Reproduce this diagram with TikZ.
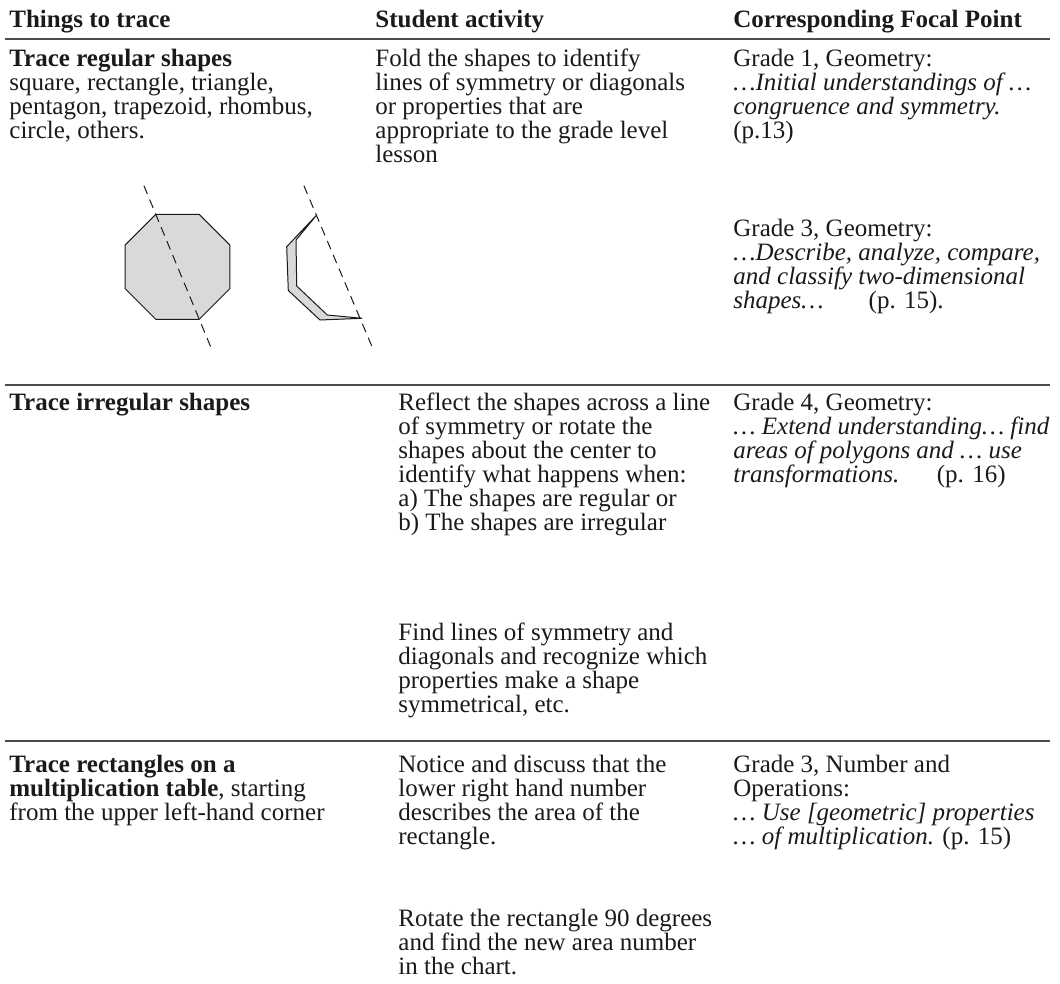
\documentclass[tikz,border=0pt]{standalone}
\usepackage{fontspec}
\setmainfont{Liberation Serif}
\usepackage{xcolor}
\definecolor{rulegray}{HTML}{4D4D4D}
\definecolor{inkblack}{HTML}{1A1A1A}
\definecolor{shapefill}{HTML}{D9D9D9}
\newcommand{\cellfont}{\fontsize{12.5}{12}\selectfont}
\newcommand{\cellstrut}{\rule{0pt}{10pt}}

\begin{document}
\begin{tikzpicture}[
  x=0.5pt, y=-0.5pt,
  celltext/.style={
    anchor=north west,
    inner sep=0pt,
    align=left,
    font=\cellfont,
    text=inkblack
  },
  headtext/.style={
    celltext,
    font=\cellfont\bfseries
  },
  rowrule/.style={
    draw=rulegray,
    line width=1pt
  },
  outline/.style={
    draw=inkblack,
    line width=0.5pt,
    line join=miter
  },
  foldline/.style={
    draw=inkblack,
    line width=0.5pt,
    dash pattern=on 4.5pt off 3pt
  }
]
  \useasboundingbox (0,0) rectangle (1060,984);

  % --- HEADER ---
  \node[headtext] (h1) at (9,7)   {\cellstrut Things to trace};
  \node[headtext] (h2) at (375,7) {\cellstrut Student activity};
  \node[headtext] (h3) at (733,7) {\cellstrut Corresponding Focal Point};
  \draw[rowrule] (5,39) -- (1050,39);

  % --- ROW 1: regular shapes ---
  \node[celltext] (r1a) at (9,46) {
    \cellstrut\textbf{Trace regular shapes}\\
    square, rectangle, triangle,\\
    pentagon, trapezoid, rhombus,\\
    circle, others.
  };
  \node[celltext] (r1b) at (375,46) {
    \cellstrut Fold the shapes to identify\\
    lines of symmetry or diagonals\\
    or properties that are\\
    appropriate to the grade level\\
    lesson
  };
  \node[celltext] (r1c) at (733,46) {
    \cellstrut Grade 1, Geometry:\\
    \textit{…Initial understandings of …}\\
    \textit{congruence and symmetry.}\\
    (p.13)
  };
  \node[celltext] (r1d) at (733,216) {
    \cellstrut Grade 3, Geometry:\\
    \textit{…Describe, analyze, compare,}\\
    \textit{and classify two-dimensional}\\
    \textit{shapes…}\hspace{1.8em}(p. 15).
  };

  % octagon with its line of symmetry
  \draw[outline, fill=shapefill]
    (229.98,245.06) -- (199.24,214.32) -- (155.76,214.32) -- (125.02,245.06)
    -- (125.02,288.54) -- (155.76,319.28) -- (199.24,319.28) -- (229.98,288.54)
    -- cycle;
  \draw[foldline] (143.9,185.7) -- (211.9,349.8);

  % folded half
  \draw[outline, fill=shapefill]
    (316.7,215) -- (286.7,246.7) -- (288.3,290.5) -- (320,320) -- (362,318.3)
    -- (327.3,315) -- (296.7,286) -- (296,240) -- cycle;
  \draw[foldline] (303.9,185.7) -- (373,349);

  \draw[rowrule] (5,385) -- (1050,385);

  % --- ROW 2: irregular shapes ---
  \node[celltext] (r2a) at (9,390) {\cellstrut\textbf{Trace irregular shapes}};
  \node[celltext] (r2b) at (398,390) {
    \cellstrut Reflect the shapes across a line\\
    of symmetry or rotate the\\
    shapes about the center to\\
    identify what happens when:\\
    a) The shapes are regular or\\
    b) The shapes are irregular
  };
  \node[celltext] (r2c) at (398,620) {
    \cellstrut Find lines of symmetry and\\
    diagonals and recognize which\\
    properties make a shape\\
    symmetrical, etc.
  };
  \node[celltext] (r2d) at (733,390) {
    \cellstrut Grade 4, Geometry:\\
    \textit{… Extend understanding… find}\\
    \textit{areas of polygons and … use}\\
    \textit{transformations.}\hspace{1.5em}(p. 16)
  };

  \draw[rowrule] (5,741) -- (1050,741);

  % --- ROW 3: multiplication table ---
  \node[celltext] (r3a) at (9,752) {
    \cellstrut\textbf{Trace rectangles on a}\\
    \textbf{multiplication table}, starting\\
    from the upper left-hand corner
  };
  \node[celltext] (r3b) at (398,752) {
    \cellstrut Notice and discuss that the\\
    lower right hand number\\
    describes the area of the\\
    rectangle.
  };
  \node[celltext] (r3c) at (398,906) {
    \cellstrut Rotate the rectangle 90 degrees\\
    and find the new area number\\
    in the chart.
  };
  \node[celltext] (r3d) at (733,752) {
    \cellstrut Grade 3, Number and\\
    Operations:\\
    \textit{… Use [geometric] properties}\\
    \textit{… of multiplication.} (p. 15)
  };
\end{tikzpicture}
\end{document}
